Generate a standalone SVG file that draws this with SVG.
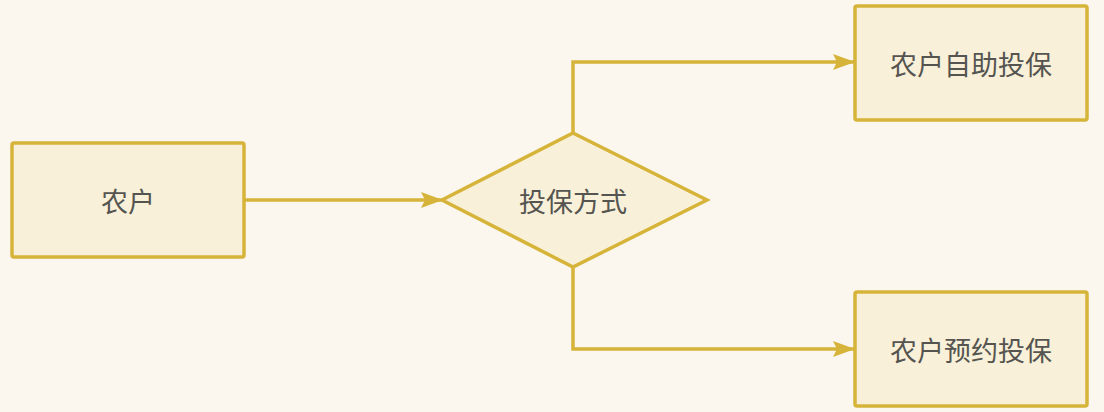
<svg xmlns="http://www.w3.org/2000/svg" width="1104" height="412" viewBox="0 0 1104 412">
<defs>
<style>
.node{fill:#f8f0d8;stroke:#d6b43a;stroke-width:3.5}
.lbl{font-family:"Noto Sans CJK SC","Noto Sans",sans-serif;font-size:27px;fill:#555450;text-anchor:middle;dominant-baseline:central}
.edge{fill:none;stroke:#d6b43a;stroke-width:3.5}
</style>
<marker id="arr" markerUnits="userSpaceOnUse" markerWidth="24" markerHeight="18" refX="21" refY="8" orient="auto">
<path d="M0,0 L22,8 L0,16 L4,8 z" fill="#d6b43a"/>
</marker>
</defs>
<rect width="1104" height="412" fill="#fbf7ee"/>
<g id="connectors">
<path class="edge" d="M244,200 L442,200" marker-end="url(#arr)"/>
<path class="edge" d="M573,133 L573,62 L854,62" marker-end="url(#arr)"/>
<path class="edge" d="M573,267 L573,349 L854,349" marker-end="url(#arr)"/>
</g>
<g id="n1">
<rect class="node" x="12" y="143" width="232" height="114" rx="2"/>
<text class="lbl" x="128" y="200">农户</text>
</g>
<g id="n2">
<polygon class="node" points="573,133 707,200 573,267 442,200"/>
<text class="lbl" x="573" y="200">投保方式</text>
</g>
<g id="n3">
<rect class="node" x="855" y="6" width="232" height="114" rx="2"/>
<text class="lbl" x="971" y="63">农户自助投保</text>
</g>
<g id="n4">
<rect class="node" x="855" y="292" width="232" height="114" rx="2"/>
<text class="lbl" x="971" y="349">农户预约投保</text>
</g>
</svg>
